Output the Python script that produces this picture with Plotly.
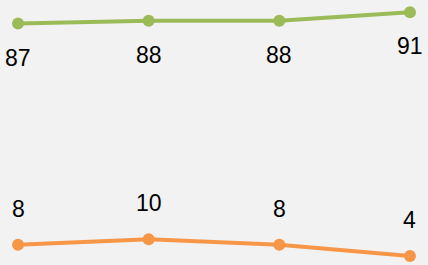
import plotly.graph_objects as go

categories = [0, 1, 2, 3]
series_green = [87, 88, 88, 91]
series_orange = [8, 10, 8, 4]

GREEN = "#9bbb59"
ORANGE = "#f79646"

fig = go.Figure()
fig.add_trace(go.Scatter(x=categories, y=series_green, mode="lines+markers",
                         line=dict(color=GREEN, width=4),
                         marker=dict(color=GREEN, size=12), hoverinfo="skip"))
fig.add_trace(go.Scatter(x=categories, y=series_orange, mode="lines+markers",
                         line=dict(color=ORANGE, width=4),
                         marker=dict(color=ORANGE, size=12), hoverinfo="skip"))

font = dict(family="Liberation Sans, Arial, sans-serif", size=23, color="#000000")
annotations = []
for x, v in zip(categories, series_green):
    annotations.append(dict(x=x, y=v, text=str(v), showarrow=False, yshift=-34,
                            font=font, xanchor="center", yanchor="middle"))
for x, v in zip(categories, series_orange):
    annotations.append(dict(x=x, y=v, text=str(v), showarrow=False, yshift=36,
                            font=font, xanchor="center", yanchor="middle"))

fig.update_layout(
    width=428, height=265,
    margin=dict(l=0, r=0, t=0, b=0),
    paper_bgcolor="#f2f2f2", plot_bgcolor="#f2f2f2",
    showlegend=False,
    annotations=annotations,
    xaxis=dict(range=[-0.138, 3.138], visible=False),
    yaxis=dict(range=[0.8, 95.4], visible=False),
)

fig.write_html("out.html", config={"displayModeBar": False},
               post_script="document.body.style.margin='0';document.body.style.padding='0';")
